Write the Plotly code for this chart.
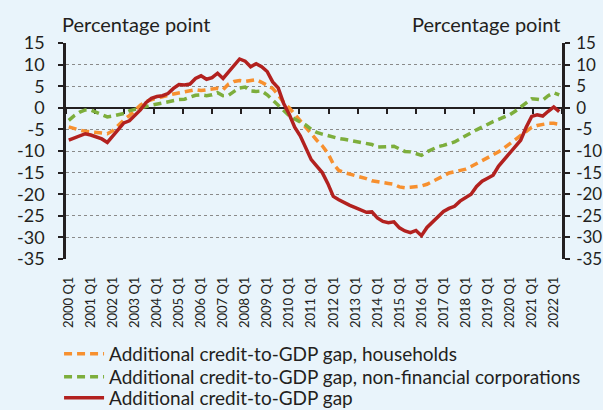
import plotly.graph_objects as go

# ---------------- data ----------------
years = list(range(2000, 2023))
quarters = [f"{y} Q{q}" for y in years for q in (1, 2, 3, 4)][:90]
tick_labels = [f"{y} Q1" for y in years]

households = [
    -4.4, -4.9, -5.2, -5.4, -5.6, -5.8, -5.9, -6.0, -5.3, -4.0,
    -2.8, -1.8, -0.5, 0.6, 1.5, 1.9, 2.2, 2.5, 2.9, 3.2,
    3.5, 3.8, 4.0, 4.2, 4.0, 4.1, 4.3, 4.5, 4.2, 5.5,
    6.1, 6.3, 6.1, 6.2, 6.5, 5.9, 5.2, 4.5, 3.0, 1.2,
    0.0, -1.5, -3.0, -4.5, -6.3, -7.5, -8.8, -10.5, -13.0, -14.5,
    -15.0, -15.3, -15.6, -16.0, -16.4, -16.9, -17.2, -17.3, -17.5, -17.7,
    -18.3, -18.5, -18.4, -18.3, -18.1, -17.7, -17.0, -16.3, -15.7, -15.1,
    -14.8, -14.5, -14.2, -13.6, -12.9, -12.3, -11.7, -11.0, -10.2, -9.3,
    -8.3, -7.4, -6.4, -5.3, -4.5, -4.1, -3.8, -3.6, -3.6, -3.8,
]

nfc = [
    -2.9, -1.8, -1.0, -0.5, -0.5, -1.0, -1.6, -2.1, -1.9, -1.6,
    -1.3, -0.7, -0.3, 0.0, 0.3, 0.6, 0.9, 1.2, 1.4, 1.7,
    1.9, 2.0, 2.4, 2.9, 3.0, 2.8, 3.0, 3.5, 2.8, 2.9,
    3.8, 4.6, 4.8, 3.9, 3.8, 3.9, 3.0, 1.8, 0.5, -0.8,
    -1.8, -2.6, -3.3, -4.0, -5.0, -5.7, -6.1, -6.5, -6.8, -7.1,
    -7.3, -7.5, -7.8, -7.9, -8.1, -8.5, -9.1, -9.0, -9.1, -8.9,
    -9.5, -10.1, -10.2, -10.5, -11.0, -10.2, -9.5, -9.0, -8.7, -8.3,
    -7.9, -7.2, -6.4, -5.8, -5.1, -4.4, -3.8, -3.2, -2.7, -2.2,
    -1.6, -0.8, 0.2, 1.3, 2.1, 2.0, 1.8, 2.8, 3.5, 3.0,
]

total = [
    -7.5, -7.0, -6.5, -6.0, -6.3, -6.8, -7.2, -8.0, -6.5, -5.2,
    -3.5, -3.0, -1.8, -0.5, 1.2, 2.2, 2.6, 2.8, 3.3, 4.5,
    5.4, 5.3, 5.5, 6.8, 7.4, 6.6, 7.0, 8.0, 6.8, 8.3,
    10.0, 11.3, 10.8, 9.5, 10.2, 9.5, 8.4, 6.0, 4.6, 1.0,
    -1.5, -4.5, -6.5, -9.5, -12.0, -13.5, -15.0, -17.5, -20.5, -21.3,
    -22.0, -22.6, -23.1, -23.6, -24.2, -24.1, -25.5, -26.3, -26.6, -26.4,
    -27.8, -28.5, -28.9, -28.4, -29.6, -27.7, -26.5, -25.3, -24.0, -23.3,
    -22.8, -21.6, -20.8, -20.0, -18.2, -17.0, -16.3, -15.6, -13.5, -12.0,
    -10.6, -9.3, -7.5, -4.5, -2.0, -1.6, -1.9, -0.8, 0.2, -0.9,
]

y_ticks = [15, 10, 5, 0, -5, -10, -15, -20, -25, -30, -35]
y_tick_labels = ["15", "10", "5", "0", "-5", "-10", "-15", "-20", "-25", "-30", "-35"]

names = [
    "Additional credit-to-GDP gap, households",
    "Additional credit-to-GDP gap, non-financial corporations",
    "Additional credit-to-GDP gap",
]

# ---------------- styling ----------------
BG = "#E9F4FB"
INK = "#231F20"
FONT = "Lato"
ORANGE = "#F7902F"
GREEN = "#7DAE3C"
RED = "#B2211F"

n = len(quarters)
idx = list(range(n))
x_range = [-0.5, n - 0.5]
y_range = [-35, 15]

fig = go.Figure()
fig.add_trace(go.Scatter(
    x=idx, y=households, name=names[0], mode="lines",
    line=dict(color=ORANGE, width=3.5, dash="8px,5px"),
    xaxis="x", yaxis="y", legend="legend",
))
fig.add_trace(go.Scatter(
    x=idx, y=nfc, name=names[1], mode="lines",
    line=dict(color=GREEN, width=3.5, dash="8px,5px"),
    xaxis="x", yaxis="y", legend="legend2",
))
fig.add_trace(go.Scatter(
    x=idx, y=total, name=names[2], mode="lines",
    line=dict(color=RED, width=3.5),
    xaxis="x2", yaxis="y2", legend="legend3",
))

# tick marks on the zero line (17 equal intervals across the plot)
n_int = 17
zero_ticks = [x_range[0] + k * (x_range[1] - x_range[0]) / n_int for k in range(n_int + 1)]
zero_pos = (0 - y_range[0]) / (y_range[1] - y_range[0])


def legend_box(y):
    return dict(
        orientation="v", x=-0.014, xanchor="left", y=y, yanchor="middle",
        bgcolor="rgba(0,0,0,0)", font=dict(size=19, family=FONT, color=INK),
        itemwidth=40,
    )


fig.update_layout(
    width=603, height=410,
    margin=dict(l=66, r=41, t=43, b=151, autoexpand=False),
    paper_bgcolor=BG, plot_bgcolor=BG,
    font=dict(family=FONT, color=INK, size=18),
    showlegend=True,
    legend=legend_box(-0.4395),
    legend2=legend_box(-0.5457),
    legend3=legend_box(-0.6427),
    xaxis=dict(
        range=x_range, tickmode="array", tickvals=idx[::4], ticktext=tick_labels,
        tickangle=-90, ticks="", showline=False, showgrid=False, zeroline=False,
        tickfont=dict(size=13, family=FONT, color=INK), ticklabelstandoff=14,
        automargin=False,
    ),
    yaxis=dict(
        range=y_range, tickmode="array", tickvals=y_ticks, ticktext=y_tick_labels,
        showgrid=True, gridcolor="#8A8A8A", griddash="dot", gridwidth=1,
        zeroline=False, showline=True, linecolor=INK, linewidth=2.5,
        ticks="outside", ticklen=5, tickwidth=2, tickcolor=INK,
        tickfont=dict(size=18, family=FONT, color=INK), ticklabelstandoff=10,
        automargin=False,
    ),
    xaxis2=dict(
        range=x_range, overlaying="x", anchor="free", position=zero_pos,
        tickmode="array", tickvals=zero_ticks, showticklabels=False,
        ticks="outside", ticklen=5, tickwidth=2, tickcolor=INK,
        showline=True, linecolor=INK, linewidth=2, showgrid=False, zeroline=False,
        layer="below traces", automargin=False,
    ),
    yaxis2=dict(
        range=y_range, overlaying="y", anchor="x2", side="right",
        tickmode="array", tickvals=y_ticks, ticktext=y_tick_labels,
        showgrid=False, zeroline=False,
        showline=True, linecolor=INK, linewidth=2.5,
        ticks="outside", ticklen=5, tickwidth=2, tickcolor=INK,
        tickfont=dict(size=17, family=FONT, color=INK), ticklabelstandoff=3,
        automargin=False,
    ),
    annotations=[
        dict(text="Percentage point", xref="paper", yref="paper", x=-0.012, y=1.087,
             xanchor="left", yanchor="middle", showarrow=False,
             font=dict(size=20, family=FONT, color=INK)),
        dict(text="Percentage point", xref="paper", yref="paper", x=1.0, y=1.087,
             xanchor="right", yanchor="middle", showarrow=False,
             font=dict(size=20, family=FONT, color=INK)),
    ],
)

fig.write_html(
    "out.html",
    config={"displayModeBar": False},
    post_script=f"document.body.style.margin='0';document.body.style.background='{BG}';"
                "document.body.style.overflow='hidden';"
                "document.documentElement.style.overflow='hidden';",
)
